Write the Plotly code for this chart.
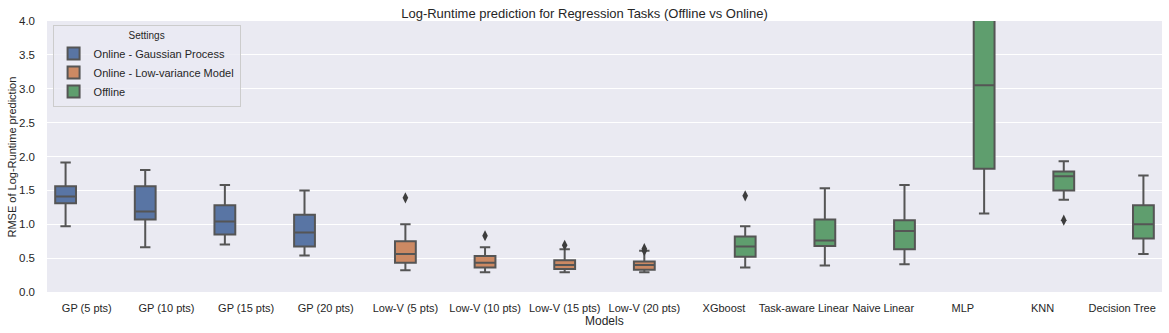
import plotly.graph_objects as go

# 数据
models = ['GP (5 pts)', 'GP (10 pts)', 'GP (15 pts)', 'GP (20 pts)',
          'Low-V (5 pts)', 'Low-V (10 pts)', 'Low-V (15 pts)', 'Low-V (20 pts)',
          'XGboost', 'Task-aware Linear', 'Naive Linear', 'MLP', 'KNN', 'Decision Tree']

settings = ['Online - Gaussian Process', 'Online - Low-variance Model', 'Offline']
setting_of_model = [0, 0, 0, 0, 1, 1, 1, 1, 2, 2, 2, 2, 2, 2]

lower = [0.97, 0.66, 0.70, 0.54, 0.32, 0.29, 0.29, 0.29, 0.36, 0.39, 0.41, 1.16, 1.36, 0.56]
q1 = [1.31, 1.07, 0.85, 0.67, 0.43, 0.36, 0.34, 0.33, 0.52, 0.68, 0.63, 1.82, 1.50, 0.79]
median = [1.41, 1.19, 1.04, 0.88, 0.56, 0.43, 0.40, 0.40, 0.67, 0.76, 0.90, 3.05, 1.71, 1.00]
q3 = [1.56, 1.56, 1.28, 1.14, 0.75, 0.53, 0.47, 0.45, 0.82, 1.07, 1.06, 4.70, 1.78, 1.28]
upper = [1.91, 1.80, 1.58, 1.50, 1.00, 0.66, 0.63, 0.61, 0.97, 1.53, 1.58, 5.60, 1.93, 1.72]

outlier_model = [4, 5, 6, 7, 7, 8, 12]
outlier_value = [1.39, 0.83, 0.69, 0.64, 0.61, 1.42, 1.06]

colors = ['#5975a4', '#cc8963', '#5f9e6e']
line_gray = '#555555'
y_ticks = [0.0, 0.5, 1.0, 1.5, 2.0, 2.5, 3.0, 3.5, 4.0]

# seaborn 风格的 hue 分组位置
n_hue = len(settings)
slot = 0.8 / n_hue


def pos(i):
    return i + (setting_of_model[i] - (n_hue - 1) / 2) * slot


fig = go.Figure()

for h, name in enumerate(settings):
    idx = [i for i in range(len(models)) if setting_of_model[i] == h]
    fig.add_trace(go.Box(
        name=name,
        x=[pos(i) for i in idx],
        q1=[q1[i] for i in idx],
        median=[median[i] for i in idx],
        q3=[q3[i] for i in idx],
        lowerfence=[lower[i] for i in idx],
        upperfence=[upper[i] for i in idx],
        width=slot * 0.98,
        whiskerwidth=0.5,
        fillcolor=colors[h],
        line=dict(color=line_gray, width=2),
        boxpoints=False,
        hoverinfo='skip',
    ))

fig.add_trace(go.Scatter(
    x=[pos(i) for i in outlier_model],
    y=outlier_value,
    mode='markers',
    marker=dict(symbol='diamond-tall', size=8, color='#3d3d3d'),
    showlegend=False,
    hoverinfo='skip',
))

fig.update_layout(
    width=1169, height=333,
    margin=dict(l=47, r=7, t=21, b=41),
    paper_bgcolor='white',
    plot_bgcolor='#eaeaf2',
    font=dict(family='Arial, Liberation Sans, sans-serif', size=11, color='#262626'),
    title=dict(text='Log-Runtime prediction for Regression Tasks (Offline vs Online)',
               x=0.5, xanchor='center', yref='paper', y=1, yanchor='bottom',
               pad=dict(b=3), font=dict(size=13, color='#262626')),
    legend=dict(
        x=0.005, y=0.985, xanchor='left', yanchor='top',
        bgcolor='rgba(234,234,242,0.8)', bordercolor='#cccccc', borderwidth=1,
        title=dict(text='Settings', side='top center', font=dict(size=10)),
        font=dict(size=11),
        tracegroupgap=0,
    ),
    xaxis=dict(
        range=[-0.5, len(models) - 0.5],
        tickvals=list(range(len(models))),
        ticktext=models,
        showgrid=False, zeroline=False, automargin=False,
        ticks='', tickfont=dict(size=11), tickangle=0, ticklabelstandoff=8,
    ),
    yaxis=dict(
        range=[0, 4],
        tickvals=y_ticks,
        ticktext=[f'{t:.1f}' for t in y_ticks],
        showgrid=True, gridcolor='white', gridwidth=1,
        zeroline=False, ticks='', tickfont=dict(size=11.5), automargin=False,
        ticklabelstandoff=11,
    ),
    annotations=[
        dict(text='Models', xref='paper', yref='paper', x=0.5, y=-0.107,
             xanchor='center', yanchor='middle', showarrow=False,
             font=dict(size=12, color='#262626')),
        dict(text='RMSE of Log-Runtime prediction', xref='paper', yref='paper',
             x=-0.0314, y=0.5, xanchor='center', yanchor='middle', textangle=-90,
             showarrow=False, font=dict(size=11, color='#262626')),
    ],
    showlegend=True,
)

fig.write_html('out.html', config={'displayModeBar': False},
               post_script="document.body.style.margin='0px';")
